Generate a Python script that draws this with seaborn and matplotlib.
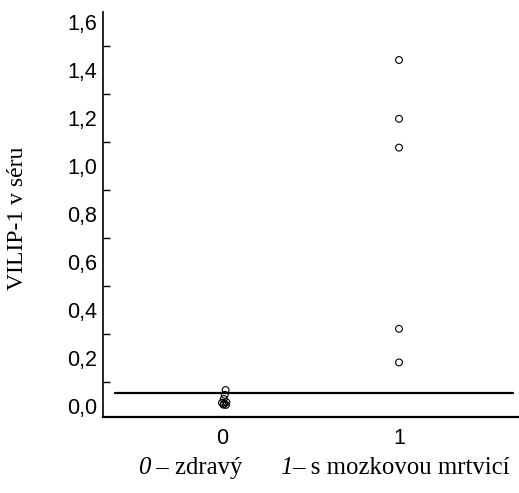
import matplotlib
matplotlib.use("Agg")
import matplotlib.pyplot as plt
import seaborn as sns
import pandas as pd
from matplotlib.ticker import MultipleLocator, FuncFormatter

# Data
group0_x = [0.02, 0.015, 0.01, 0.0, 0.025, 0.008, 0.022, 0.012]
group0_y = [0.065, 0.045, 0.028, 0.012, 0.014, 0.004, 0.003, 0.008]
group1_x = [1, 1, 1, 1, 1]
group1_y = [1.44, 1.195, 1.075, 0.32, 0.18]
cutoff = 0.053
xtick_vals = [0, 1]
xtick_labels = ["0", "1"]
ylabel = "VILIP-1 v séru"
caption_parts = ["0", " – zdravý      ", "1", "– s mozkovou mrtvicí"]

df = pd.DataFrame({
    "x": group0_x + group1_x,
    "y": group0_y + group1_y,
})

sns.set_style("white")
plt.rcParams["font.family"] = ["Liberation Sans", "DejaVu Sans"]
plt.rcParams["text.color"] = "black"
plt.rcParams["xtick.color"] = "black"
plt.rcParams["ytick.color"] = "black"

fig = plt.figure(figsize=(5.19, 4.93), dpi=100)
ax = fig.add_axes([0.198, 0.1548, 0.802, 0.8209])

sns.scatterplot(data=df, x="x", y="y", ax=ax, marker="o", s=24,
                facecolor="none", edgecolor="black", linewidth=0.8, zorder=3)

ax.axhline(cutoff, xmin=0.03, xmax=0.985, color="black", linewidth=1.6, zorder=2)

ax.set_xlim(-0.674, 1.678)
ax.set_ylim(-0.046, 1.64)
ax.set_xticks(xtick_vals)
ax.set_xticklabels(xtick_labels, fontsize=15.5, color="black")
ax.yaxis.set_major_locator(MultipleLocator(0.2))
ax.yaxis.set_minor_locator(MultipleLocator(0.1))
ax.yaxis.set_major_formatter(FuncFormatter(lambda v, p: f"{v:.1f}".replace(".", ",")))
ax.tick_params(axis="y", which="major", direction="in", length=8.5, width=1.0,
               labelsize=15.5, pad=4, color="black", labelcolor="black")
ax.tick_params(axis="y", which="minor", direction="in", length=5, width=1.0,
               color="black", left=True)
ax.tick_params(axis="x", length=0, pad=8.5, labelsize=15.5, labelcolor="black")

ax.set_xlabel("")
ax.set_ylabel("")
fig.text(18 / 519, 1 - 218 / 493, ylabel, family=["Liberation Serif", "DejaVu Serif"],
         fontsize=17, rotation=90, ha="center", va="center", color="black")

for side in ["top", "right"]:
    ax.spines[side].set_visible(False)
ax.spines["left"].set_linewidth(1.2)
ax.spines["bottom"].set_linewidth(1.6)
ax.spines["left"].set_color("black")
ax.spines["bottom"].set_color("black")

# caption with italic numerals
serif = ["Liberation Serif", "DejaVu Serif"]
x0 = 138 / 519
y0 = 1 - 468 / 493
renderer = fig.canvas.get_renderer()
xpos = x0
for i, part in enumerate(caption_parts):
    style = "italic" if i % 2 == 0 else "normal"
    t = fig.text(xpos, y0, part, family=serif, fontsize=17.8, style=style,
                 va="center", ha="left", color="black")
    bb = t.get_window_extent(renderer=renderer)
    xpos += bb.width / fig.bbox.width

fig.savefig("out.png", dpi=100)
